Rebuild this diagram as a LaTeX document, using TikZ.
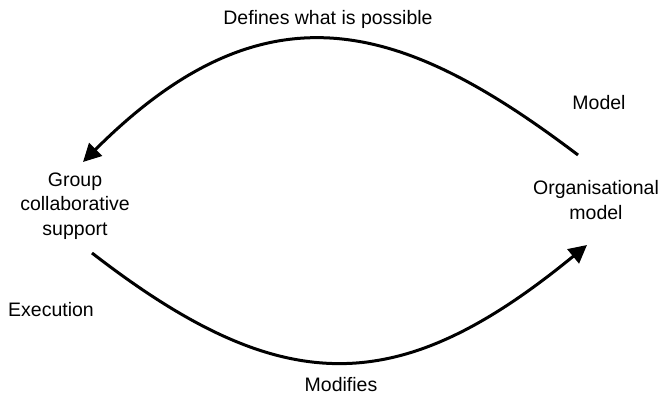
\documentclass[tikz,border=0pt]{standalone}
\usepackage{fontspec}
\setmainfont{Liberation Sans}
\usetikzlibrary{arrows.meta}
\begin{document}
\begin{tikzpicture}[x=1pt,y=-1pt,
  lbl/.style={inner sep=0pt, font=\fontsize{19.5}{24.5}\selectfont},
  blk/.style={lbl, align=center},
  cycle arc/.style={line width=3pt, -{Triangle[length=18pt,width=18pt]}}]
  \useasboundingbox (0,0) rectangle (661,398);

  % labels
  \node[lbl, anchor=base] (defines) at (328,25) {Defines what is possible};
  \node[lbl, anchor=base] (modelLbl) at (599,110) {Model};
  \node[blk] (org) at (596,200) {Organisational\\model};
  \node[blk] (grp) at (75,206) {Group\\collaborative\\support};
  \node[lbl, anchor=base west] (exec) at (8,316) {Execution};
  \node[lbl, anchor=base] (modifies) at (341,391) {Modifies};

  % arc end points beside the two blocks
  \coordinate (orgIn)  at (587,245);
  \coordinate (orgOut) at (578,155);
  \coordinate (grpIn)  at (83,162);
  \coordinate (grpOut) at (92,253);

  % upper arc: organisational model -> group support
  \draw[cycle arc] (orgOut) .. controls (405,24) and (268,-23) .. (grpIn);
  % lower arc: group support -> organisational model
  \draw[cycle arc] (grpOut) .. controls (282,400) and (398,400) .. (orgIn);
\end{tikzpicture}
\end{document}
